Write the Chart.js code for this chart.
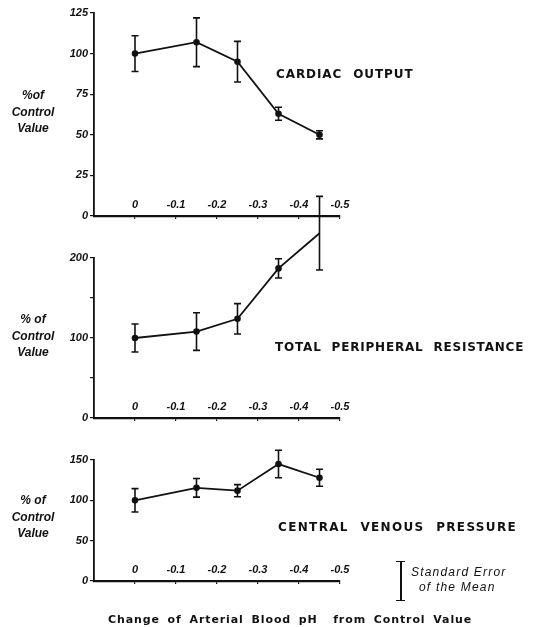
<!DOCTYPE html>
<html>
<head>
<meta charset="utf-8">
<script src="https://cdn.jsdelivr.net/npm/chart.js@4.4.1/dist/chart.umd.min.js"></script>
<style>
  html, body { margin: 0; padding: 0; background: #fff; }
  #wrap { position: relative; width: 546px; height: 627px; overflow: hidden; }
  #wrap canvas { position: absolute; left: 0; }
  .txt { position: absolute; color: #111; white-space: nowrap; line-height: 16px; }
  .title { font-family: "DejaVu Sans", sans-serif; font-weight: bold; font-size: 12px; letter-spacing: 1.2px; word-spacing: 6px; }
  .ylab { font-family: "Liberation Sans", sans-serif; font-style: italic; font-weight: bold; font-size: 12px; text-align: center; width: 60px; left: 3px; line-height: 16.5px; }
  .note { font-family: "Liberation Sans", sans-serif; font-style: italic; font-size: 12px; letter-spacing: 1.2px; }
  #seBar { position: absolute; left: 396px; top: 561px; width: 9px; height: 38px; border-top: 1.6px solid #111; border-bottom: 1.6px solid #111; }
  #seBar div { position: absolute; left: 4px; top: 0; width: 1.6px; height: 100%; background: #111; }
</style>
</head>
<body>
<div id="wrap">
  <canvas id="co" width="546" height="240" style="top:0px"></canvas>
  <canvas id="tpr" width="546" height="260" style="top:180px"></canvas>
  <canvas id="cvp" width="546" height="170" style="top:440px"></canvas>

  <div class="txt ylab" style="top:87px">%of<br>Control<br>Value</div>
  <div class="txt title" style="left:276px;top:66px;letter-spacing:0.9px">CARDIAC OUTPUT</div>

  <div class="txt ylab" style="top:311px">% of<br>Control<br>Value</div>
  <div class="txt title" style="left:275px;top:339px;letter-spacing:0.8px;word-spacing:5px">TOTAL PERIPHERAL RESISTANCE</div>

  <div class="txt ylab" style="top:492px">% of<br>Control<br>Value</div>
  <div class="txt title" style="left:278px;top:519px;letter-spacing:1.35px">CENTRAL VENOUS PRESSURE</div>

  <div id="seBar"><div></div></div>
  <div class="txt note" style="left:411px;top:564px">Standard Error</div>
  <div class="txt note" style="left:419px;top:579px">of the Mean</div>

  <div class="txt title" style="left:108px;top:612px;font-size:11px;letter-spacing:0.9px;word-spacing:3px">Change of Arterial Blood pH&nbsp; from Control Value</div>
</div>

<script>
// x positions (change of arterial pH) and axis ticks
const phChange = [0, -0.15, -0.25, -0.35, -0.45];
const xTicks = [0, -0.1, -0.2, -0.3, -0.4, -0.5];

// cardiac output, % of control, with standard error
const cardiacOutput   = [100, 107, 95, 63, 50];
const cardiacOutputSE = [11, 15, 12.5, 4, 2.5];
const coTicks = [0, 25, 50, 75, 100, 125];
const coLabels = [0, 25, 50, 75, 100, 125];

// total peripheral resistance
const resistance   = [100, 108, 124, 187, 231];
const resistanceSE = [17.5, 23.5, 19, 12, 46];
const tprTicks = [0, 50, 100, 150, 200];
const tprLabels = [0, 100, 200];

// central venous pressure
const venousPressure   = [100, 115.5, 112, 145, 128];
const venousPressureSE = [14.5, 11.5, 7.5, 17, 10.5];
const cvpTicks = [0, 50, 100, 150];
const cvpLabels = [0, 50, 100, 150];

const INK = '#111';
const tickFont = { family: 'Liberation Sans', style: 'italic', weight: 'bold', size: 11 };

// vertical SE bars with small caps, not clipped to the plot area
const errorBars = {
  id: 'errorBars',
  afterDatasetsDraw(chart) {
    const ctx = chart.ctx;
    const ds = chart.data.datasets[0];
    const yScale = chart.scales.y;
    const meta = chart.getDatasetMeta(0);
    ctx.save();
    ctx.strokeStyle = INK;
    ctx.lineWidth = 1.6;
    meta.data.forEach((pt, i) => {
      const v = ds.data[i].y, e = ds.errors[i];
      const top = yScale.getPixelForValue(v + e);
      const bot = yScale.getPixelForValue(v - e);
      ctx.beginPath();
      ctx.moveTo(pt.x, top); ctx.lineTo(pt.x, bot);
      ctx.moveTo(pt.x - 3.5, top); ctx.lineTo(pt.x + 3.5, top);
      ctx.moveTo(pt.x - 3.5, bot); ctx.lineTo(pt.x + 3.5, bot);
      ctx.stroke();
    });
    ctx.restore();
  }
};

function makePanel(id, values, errors, yMax, yTicks, yLabels, padTop, xHeight) {
  new Chart(document.getElementById(id), {
    type: 'scatter',
    data: {
      datasets: [{
        data: phChange.map((x, i) => ({ x: x, y: values[i] })),
        errors: errors,
        showLine: true,
        borderColor: INK,
        borderWidth: 1.8,
        backgroundColor: INK,
        pointRadius: 2.4,
        pointHoverRadius: 2.4,
        clip: false
      }]
    },
    options: {
      responsive: false,
      animation: false,
      layout: { padding: { top: padTop, right: 206, bottom: 0, left: 0 } },
      plugins: { legend: { display: false }, tooltip: { enabled: false } },
      scales: {
        x: {
          type: 'linear',
          min: -0.5,
          max: 0.1,
          reverse: true,
          afterBuildTicks: s => { s.ticks = xTicks.map(v => ({ value: v })); },
          afterFit: s => { s.height = xHeight; },
          border: { color: INK, width: 2.2 },
          grid: { drawOnChartArea: false, color: INK, tickLength: 3, lineWidth: 1.2 },
          // mirrored labels sit just above the axis line, inside the plot
          ticks: {
            color: INK, font: tickFont, padding: 4.5, mirror: true, maxRotation: 0, autoSkip: false,
            callback: v => (v === 0 ? '0' : v.toFixed(1))
          }
        },
        y: {
          min: 0,
          max: yMax,
          afterBuildTicks: s => { s.ticks = yTicks.map(v => ({ value: v })); },
          afterFit: s => { s.width = 94; },
          border: { color: INK, width: 1.8 },
          grid: { drawOnChartArea: false, color: INK, tickLength: 4, lineWidth: 1.2 },
          ticks: {
            color: INK, font: tickFont, padding: 2, autoSkip: false,
            callback: v => (yLabels.includes(v) ? String(v) : '')
          }
        }
      }
    },
    plugins: [errorBars]
  });
}

makePanel('co', cardiacOutput, cardiacOutputSE, 125, coTicks, coLabels, 13, 24);
makePanel('tpr', resistance, resistanceSE, 200, tprTicks, tprLabels, 78, 22);
makePanel('cvp', venousPressure, venousPressureSE, 150, cvpTicks, cvpLabels, 20, 29);
</script>
</body>
</html>
